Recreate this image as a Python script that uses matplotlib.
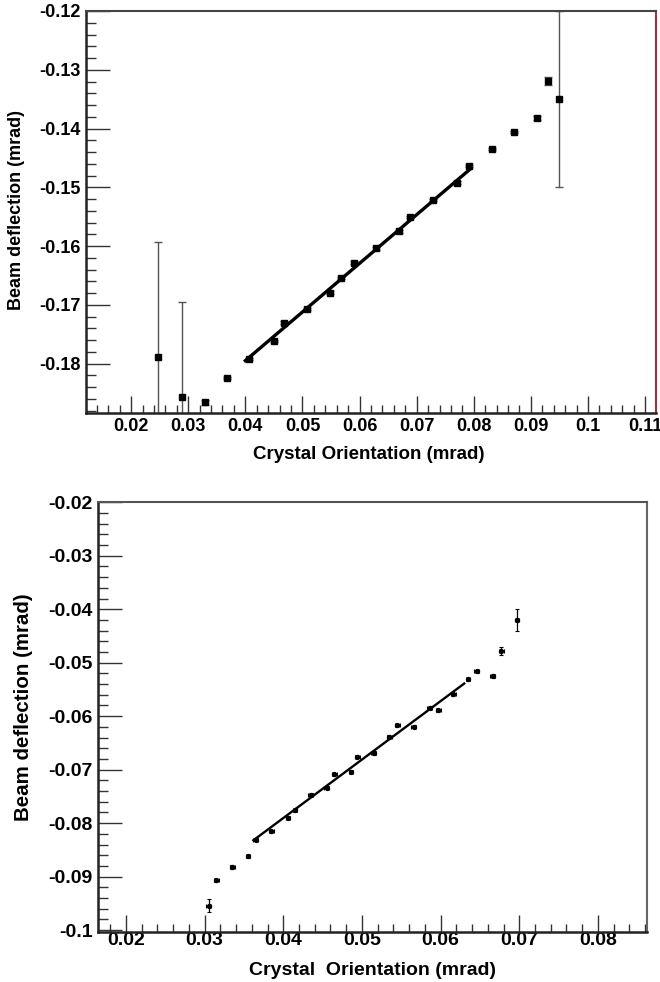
import numpy as np
import matplotlib
matplotlib.use("Agg")
import matplotlib.pyplot as plt
from matplotlib.ticker import MultipleLocator, FuncFormatter

plt.rcParams['font.family'] = ['Liberation Sans', 'DejaVu Sans']
plt.rcParams['font.weight'] = 'bold'

# upper panel: measured points
x_top = [0.0247, 0.0289, 0.0329, 0.0368, 0.0406, 0.0450, 0.0467, 0.0508, 0.0548,
         0.0568, 0.0590, 0.0629, 0.0669, 0.0689, 0.0729, 0.0770, 0.0791, 0.0832,
         0.0870, 0.0911, 0.0930, 0.0950]
y_top = [-0.1788, -0.1856, -0.1866, -0.1824, -0.1792, -0.1761, -0.1730, -0.1707,
         -0.1679, -0.1654, -0.1628, -0.1604, -0.1575, -0.1550, -0.1522, -0.1492,
         -0.1464, -0.1435, -0.1406, -0.1382, -0.1319, -0.1350]
err_top = [0.0195, 0.0161, 0.0005, 0.0002, 0.0002, 0.0002, 0.0002, 0.0002, 0.0002,
           0.0002, 0.0002, 0.0002, 0.0002, 0.0002, 0.0002, 0.0002, 0.0002, 0.0002,
           0.0002, 0.0003, 0.0007, 0.0150]
fit_top_range = [0.0400, 0.0795]
fit_top = [0.8278, -0.2126]   # slope, intercept

# lower panel: measured points
x_bot = [0.0305, 0.0315, 0.0335, 0.0355, 0.0365, 0.0385, 0.0406, 0.0415, 0.0435,
         0.0455, 0.0465, 0.0486, 0.0494, 0.0515, 0.0535, 0.0545, 0.0566, 0.0586,
         0.0597, 0.0616, 0.0635, 0.0646, 0.0666, 0.0677, 0.0697]
y_bot = [-0.0954, -0.0907, -0.0882, -0.0862, -0.0831, -0.0815, -0.0790, -0.0776,
         -0.0747, -0.0734, -0.0709, -0.0704, -0.0676, -0.0669, -0.0639, -0.0617,
         -0.0620, -0.0584, -0.0589, -0.0559, -0.0531, -0.0516, -0.0525, -0.0478,
         -0.0420]
yerr_bot = [0.0013, 0.0003, 0.0003, 0.0003, 0.0003, 0.0003, 0.0003, 0.0003, 0.0003,
            0.0003, 0.0003, 0.0003, 0.0003, 0.0003, 0.0003, 0.0003, 0.0003, 0.0003,
            0.0003, 0.0003, 0.0003, 0.0003, 0.0003, 0.0008, 0.0020]
xerr_bot = 0.0003
fit_bot_range = [0.0362, 0.0630]
fit_bot = [1.0933, -0.12278]

fmt = FuncFormatter(lambda v, p: f"{v:g}")

fig = plt.figure(figsize=(6.6, 9.82), dpi=100)
ax1 = fig.add_axes([0.1303, 0.5794, 0.8636, 0.4094])
ax2 = fig.add_axes([0.148, 0.0512, 0.8318, 0.4379])


def style(ax, right_color, top_color, xsize, ysize, xpad, ypad):
    for s in ['left', 'bottom']:
        ax.spines[s].set_linewidth(1.8)
        ax.spines[s].set_color('#222222')
    ax.spines['right'].set_color(right_color)
    ax.spines['right'].set_linewidth(1.5)
    ax.spines['top'].set_color(top_color)
    ax.spines['top'].set_linewidth(1.5)
    ax.tick_params(which='both', direction='in', top=False, right=False,
                   width=1.0, color='#333333')
    ax.tick_params(axis='x', which='major', length=12, pad=xpad, labelsize=xsize)
    ax.tick_params(axis='x', which='minor', length=6)
    ax.tick_params(axis='y', which='major', length=17, pad=ypad, labelsize=ysize)
    ax.tick_params(axis='y', which='minor', length=7)
    ax.xaxis.set_major_locator(MultipleLocator(0.01))
    ax.xaxis.set_minor_locator(MultipleLocator(0.002))
    ax.yaxis.set_major_locator(MultipleLocator(0.01))
    ax.yaxis.set_minor_locator(MultipleLocator(0.002))
    ax.xaxis.set_major_formatter(fmt)
    ax.yaxis.set_major_formatter(fmt)
    for lab in ax.get_xticklabels() + ax.get_yticklabels():
        lab.set_fontweight('bold')


# upper panel
ax1.errorbar(x_top, y_top, yerr=err_top, fmt='s', color='black', ms=4.2,
             ecolor='#555555', elinewidth=1.0, capsize=3, capthick=1.0)
xf = np.array(fit_top_range)
ax1.plot(xf, fit_top[0] * xf + fit_top[1], color='black', lw=2.4)
ax1.set_xlim(0.0121, 0.1119)
ax1.set_ylim(-0.1884, -0.12)
style(ax1, '#a03040', '#444444', 13, 13, 3.5, 4)
ax1.set_xlabel('Crystal Orientation (mrad)', fontsize=13.5, fontweight='bold')
ax1.set_ylabel('Beam deflection (mrad)', fontsize=13, fontweight='bold')
ax1.xaxis.set_label_coords(0.496, -0.083)
ax1.yaxis.set_label_coords(-0.107, 0.505)

# lower panel
ax2.errorbar(x_bot, y_bot, yerr=yerr_bot, xerr=xerr_bot, fmt='o', color='black',
             ms=2.8, ecolor='black', elinewidth=0.9, capsize=1.5, capthick=0.8)
xf = np.array(fit_bot_range)
ax2.plot(xf, fit_bot[0] * xf + fit_bot[1], color='black', lw=1.7)
ax2.set_xlim(0.0164, 0.0862)
ax2.set_ylim(-0.1003, -0.0199)
style(ax2, '#666666', '#555555', 14, 14, 0.5, 3.5)
ax2.set_xlabel('Crystal  Orientation (mrad)', fontsize=14, fontweight='bold')
ax2.set_ylabel('Beam deflection (mrad)', fontsize=14.8, fontweight='bold')
ax2.xaxis.set_label_coords(0.5, -0.071)
ax2.yaxis.set_label_coords(-0.118, 0.523)

fig.savefig('out.png', dpi=100)
